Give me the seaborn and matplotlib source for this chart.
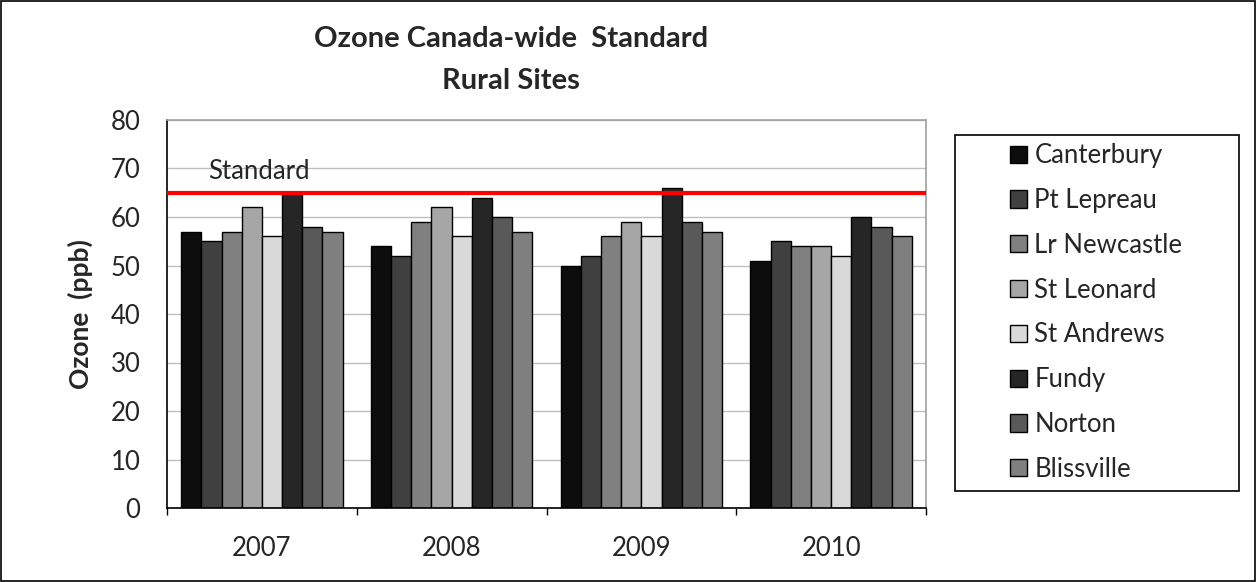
import pandas as pd
import numpy as np
import matplotlib.pyplot as plt
import seaborn as sns
from matplotlib.patches import Rectangle, Patch

# data
years = ['2007', '2008', '2009', '2010']
sites = ['Canterbury', 'Pt Lepreau', 'Lr Newcastle', 'St Leonard',
         'St Andrews', 'Fundy', 'Norton', 'Blissville']
canterbury = [57, 54, 50, 51]
pt_lepreau = [55, 52, 52, 55]
lr_newcastle = [57, 59, 56, 54]
st_leonard = [62, 62, 59, 54]
st_andrews = [56, 56, 56, 52]
fundy = [65, 64, 66, 60]
norton = [58, 60, 59, 58]
blissville = [57, 57, 57, 56]
standard = 65

colors = ['#0d0d0d', '#404040', '#808080', '#a6a6a6',
          '#d9d9d9', '#262626', '#595959', '#7f7f7f']

series = [canterbury, pt_lepreau, lr_newcastle, st_leonard,
          st_andrews, fundy, norton, blissville]
rows = []
for site, vals in zip(sites, series):
    for yr, v in zip(years, vals):
        rows.append({'Year': yr, 'Site': site, 'Ozone': v})
df = pd.DataFrame(rows)

sns.set_style('white')
plt.rcParams['font.family'] = ['Lato', 'DejaVu Sans']

W, H = 1256, 582
fig = plt.figure(figsize=(W / 100, H / 100), dpi=100)
# plot area: x 167..926, y 120..508 (pixels)
ax = fig.add_axes([167 / W, 1 - 508 / H, (926 - 167) / W, (508 - 120) / H])

sns.barplot(data=df, x='Year', y='Ozone', hue='Site', order=years,
            hue_order=sites, palette=colors, width=0.85,
            edgecolor='black', linewidth=1, ax=ax, legend=False)

# standard line
ax.axhline(standard, color='#ff0000', linewidth=3, zorder=5)
ax.text(0.054, 0.866, 'Standard', transform=ax.transAxes, fontsize=18.5,
        ha='left', va='center')

ax.set_ylim(0, 80)
ax.set_xlim(-0.5, 3.5)
ax.set_yticks(range(0, 81, 10))
ax.yaxis.grid(True, color='#bfbfbf', linewidth=1)
ax.set_axisbelow(True)

# ticks between the year groups like Excel
ax.set_xticks([-0.5, 0.5, 1.5, 2.5, 3.5])
ax.set_xticklabels([])
ax.set_xticks(range(4), minor=True)
ax.set_xticklabels(years, minor=True, fontsize=18.5)
ax.tick_params(axis='x', which='major', length=5, direction='out', width=1, color='black', bottom=True)
ax.tick_params(axis='x', which='minor', length=0, pad=20)
ax.tick_params(axis='y', labelsize=18.5, length=0, pad=19)

for s in ['top', 'right']:
    ax.spines[s].set_color('#a0a0a0')
    ax.spines[s].set_linewidth(1.2)
for s in ['left', 'bottom']:
    ax.spines[s].set_color('black')
    ax.spines[s].set_linewidth(1.2)

ax.set_xlabel('')
ax.set_ylabel('')
fig.text(80 / W, 1 - 314 / H, 'Ozone  (ppb)', rotation=90, ha='center', va='center',
         fontsize=19, fontweight='bold')

fig.text(511 / W, 1 - 39 / H, 'Ozone Canada-wide  Standard', ha='center',
         va='center', fontsize=21, fontweight='bold')
fig.text(511 / W, 1 - 81 / H, 'Rural Sites', ha='center',
         va='center', fontsize=21, fontweight='bold')

handles = [Patch(facecolor=c, edgecolor='black', linewidth=1) for c in colors]
leg = fig.legend(handles, sites, loc='center left',
                 bbox_to_anchor=(1010 / W, 1 - 312.5 / H),
                 fontsize=18.5, frameon=False, handlelength=0.65,
                 handleheight=0.65, handletextpad=0.3, labelspacing=0.77,
                 borderpad=0, borderaxespad=0)

# legend box
fig.patches.append(Rectangle((955 / W, 1 - 491 / H), (1239 - 955) / W, (491 - 135) / H,
                             transform=fig.transFigure, fill=False,
                             edgecolor='black', linewidth=1.2))

# outer border of the chart
fig.patches.append(Rectangle((0.001, 0.001), 0.998, 0.997, transform=fig.transFigure,
                             fill=False, edgecolor='black', linewidth=1.2))

fig.savefig('out.png', dpi=100)
